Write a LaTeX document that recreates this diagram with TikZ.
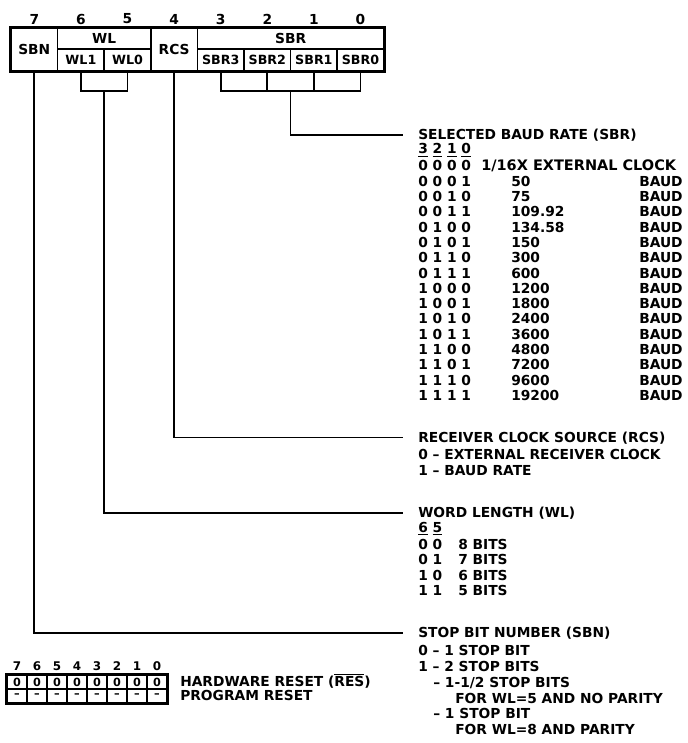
\documentclass[tikz,border=0pt]{standalone}
\usepackage{fontspec}
\setmainfont{DejaVu Sans}
\begin{document}
\begin{tikzpicture}[x=0.025cm, y=-0.025cm,
    font={\fontsize{9.8}{11}\selectfont\bfseries},
    txt/.style={anchor=west, inner sep=0pt, text height=7pt, text depth=0pt},
    cell/.style={draw, line width=1pt, inner sep=0pt, minimum width=1.165cm},
    subcell/.style={cell, minimum height=0.55cm, font={\fontsize{9}{10}\selectfont\bfseries}},
    rcell/.style={draw, line width=1pt, inner sep=0pt, minimum width=0.5cm, minimum height=0.35cm, font={\fontsize{8}{9}\selectfont\bfseries}},
    conn/.style={line width=1.2pt},
    hdline/.style={conn, shorten >=0.375cm}]
    \useasboundingbox (0,0) rectangle (687,743);

    % control register
    \foreach \b [count=\i from 0] in {7,6,...,0}
        \node (bit\b) at ({34.3+46.6*\i},19) {\b};
    \node[cell, minimum height=1.075cm] (sbn) at (34.3,49.5) {SBN};
    \node[cell, minimum width=2.33cm, minimum height=0.525cm] (wl) at (104.2,38.5) {WL};
    \node[subcell] (wl1) at (80.9,60) {WL1};
    \node[subcell] (wl0) at (127.5,60) {WL0};
    \node[cell, minimum height=1.075cm] (rcs) at (174.1,49.5) {RCS};
    \node[cell, minimum width=4.66cm, minimum height=0.525cm] (sbr) at (290.6,38.5) {SBR};
    \foreach \n [count=\i from 0] in {3,2,1,0}
        \node[subcell] (sbr\n) at ({220.7+46.6*\i},60) {SBR\n};
    \draw[line width=1.8pt] (sbn.north west) rectangle (sbr0.south east);

    % field headings
    \node[txt] (hdsbr) at (418,135) {SELECTED BAUD RATE (SBR)};
    \node[txt] (hdrcs) at (418,437.5) {RECEIVER CLOCK SOURCE (RCS)};
    \node[txt] (hdwl) at (418,513) {WORD LENGTH (WL)};
    \node[txt] (hdsbn) at (418,633) {STOP BIT NUMBER (SBN)};

    % connectors
    \coordinate (sbrfork) at (290.6,91);
    \draw[conn] (sbr3.south) |- (sbrfork) -| (sbr0.south);
    \draw[conn] (sbr2.south) -- (sbr2.south |- sbrfork);
    \draw[conn] (sbr1.south) -- (sbr1.south |- sbrfork);
    \draw[hdline] (sbrfork) |- (hdsbr.west);
    \coordinate (wlfork) at (104.2,91);
    \draw[conn] (wl1.south) |- (wlfork) -| (wl0.south);
    \draw[hdline] (wlfork) |- (hdwl.west);
    \draw[hdline] (rcs.south) |- (hdrcs.west);
    \draw[hdline] (sbn.south) |- (hdsbn.west);

    % baud rate table
    \node[txt] (codehd) at (418,149) {\underline{3} \underline{2} \underline{1} \underline{0}};
    \node[txt] (code0) at (418,166) {0 0 0 0};
    \node[txt, font={\fontsize{10.3}{11}\selectfont\bfseries}] (clk) at (481,166) {1/16X EXTERNAL CLOCK};
    \foreach \code/\rate [count=\i] in {0 0 0 1/50, 0 0 1 0/75, 0 0 1 1/109.92,
        0 1 0 0/134.58, 0 1 0 1/150, 0 1 1 0/300, 0 1 1 1/600, 1 0 0 0/1200,
        1 0 0 1/1800, 1 0 1 0/2400, 1 0 1 1/3600, 1 1 0 0/4800, 1 1 0 1/7200,
        1 1 1 0/9600, 1 1 1 1/19200} {
        \node[txt] (code\i) at (418,{166+15.3*\i}) {\code};
        \node[txt] (rate\i) at (511,{166+15.3*\i}) {\rate};
        \node[txt] (baud\i) at (639,{166+15.3*\i}) {BAUD};
    }

    % receiver clock source
    \node[txt] (rcs0) at (418,455) {0 -- EXTERNAL RECEIVER CLOCK};
    \node[txt] (rcs1) at (418,471) {1 -- BAUD RATE};

    % word length
    \node[txt] (wlhd) at (418,527.5) {\underline{6} \underline{5}};
    \foreach \code/\len [count=\i] in {0 0/8, 0 1/7, 1 0/6, 1 1/5} {
        \node[txt] (wlc\i) at (418,{529+15.5*\i}) {\code};
        \node[txt] (wlb\i) at (458,{529+15.5*\i}) {\len\ BITS};
    }

    % stop bits
    \node[txt] (sbn0) at (418,651) {0 -- 1 STOP BIT};
    \node[txt] (sbn1) at (418,667) {1 -- 2 STOP BITS};
    \node[txt] (sbn2) at (433,683) {-- 1-1/2 STOP BITS};
    \node[txt] (sbn3) at (455,698.5) {FOR WL=5 AND NO PARITY};
    \node[txt] (sbn4) at (433,714) {-- 1 STOP BIT};
    \node[txt] (sbn5) at (455,730) {FOR WL=8 AND PARITY};

    % reset values
    \foreach \b [count=\i from 0] in {7,6,...,0} {
        \node[inner sep=0pt, font={\fontsize{8.5}{9}\selectfont\bfseries}] (rb\b) at ({17+20*\i},666) {\b};
        \node[rcell] (hw\b) at ({17+20*\i},682) {0};
        \node[rcell] (pr\b) at ({17+20*\i},696) {--};
    }
    \draw[line width=1.5pt] (hw7.north west) rectangle (pr0.south east);
    \node[txt] (hwlbl) at (180,682) {HARDWARE RESET ($\overline{\mbox{RES}}$)};
    \node[txt] (prlbl) at (180,696) {PROGRAM RESET};
\end{tikzpicture}
\end{document}
